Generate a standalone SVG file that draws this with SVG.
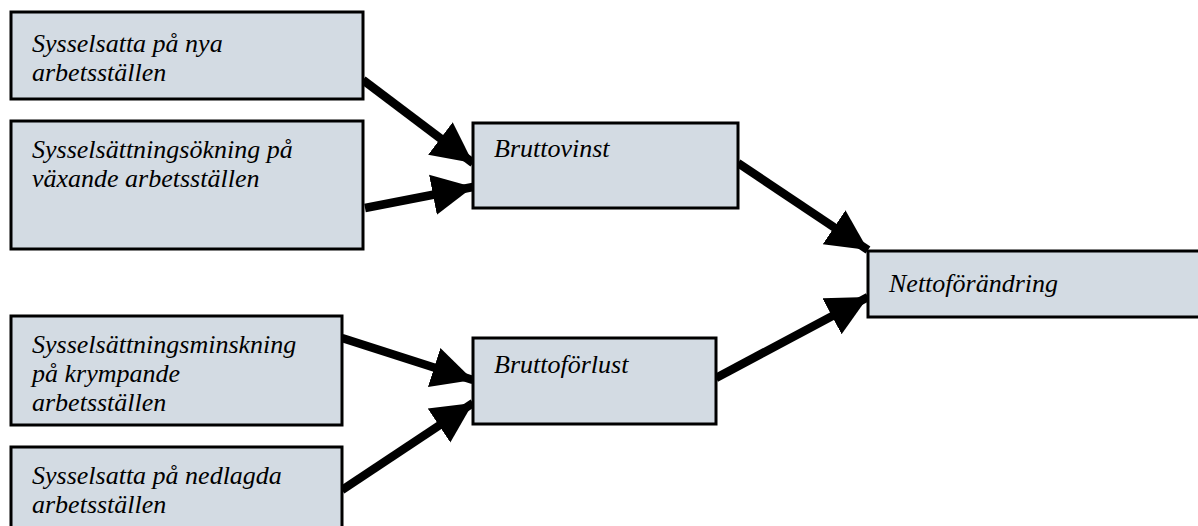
<svg xmlns="http://www.w3.org/2000/svg" width="1198" height="526" viewBox="0 0 1198 526">
<defs>
<style>
.box{fill:#d3dbe3;stroke:#000;stroke-width:3}
.t{font-family:"Liberation Serif","Times New Roman",serif;font-style:italic;font-size:26px;fill:#000}
.c{stroke:#000;stroke-width:8.5;fill:none}
</style>
<marker id="ah" viewBox="0 0 10 10" refX="10" refY="5" markerWidth="4.8" markerHeight="5.2" orient="auto" markerUnits="strokeWidth">
<path d="M0,0 L10,5 L0,10 z" fill="#000"/>
</marker>
</defs>
<rect width="1198" height="526" fill="#fff"/>
<g id="connectors">
<line class="c" x1="363" y1="80" x2="473" y2="163" marker-end="url(#ah)"/>
<line class="c" x1="365" y1="208" x2="473" y2="187" marker-end="url(#ah)"/>
<line class="c" x1="342" y1="338" x2="473" y2="380" marker-end="url(#ah)"/>
<line class="c" x1="342" y1="490" x2="473" y2="403" marker-end="url(#ah)"/>
<line class="c" x1="738" y1="163" x2="868" y2="250" marker-end="url(#ah)"/>
<line class="c" x1="716" y1="378" x2="868" y2="297" marker-end="url(#ah)"/>
</g>
<g id="n1"><rect class="box" x="11" y="12" width="352" height="87"/>
<text class="t" x="32" y="52">Sysselsatta på nya</text><text class="t" x="32" y="81">arbetsställen</text></g>
<g id="n2"><rect class="box" x="11" y="121" width="352" height="128"/>
<text class="t" x="32" y="158">Sysselsättningsökning på</text><text class="t" x="32" y="187">växande arbetsställen</text></g>
<g id="n3"><rect class="box" x="11" y="316" width="331" height="109"/>
<text class="t" x="32" y="353">Sysselsättningsminskning</text><text class="t" x="32" y="382">på krympande</text><text class="t" x="32" y="411">arbetsställen</text></g>
<g id="n4"><rect class="box" x="11" y="447" width="331" height="90"/>
<text class="t" x="32" y="484">Sysselsatta på nedlagda</text><text class="t" x="32" y="513">arbetsställen</text></g>
<g id="n5"><rect class="box" x="473" y="123" width="265" height="85"/>
<text class="t" x="494" y="157">Bruttovinst</text></g>
<g id="n6"><rect class="box" x="473" y="338" width="243" height="86"/>
<text class="t" x="494" y="373">Bruttoförlust</text></g>
<g id="n7"><rect class="box" x="868" y="251" width="340" height="66"/>
<text class="t" x="889" y="292">Nettoförändring</text></g>
</svg>
